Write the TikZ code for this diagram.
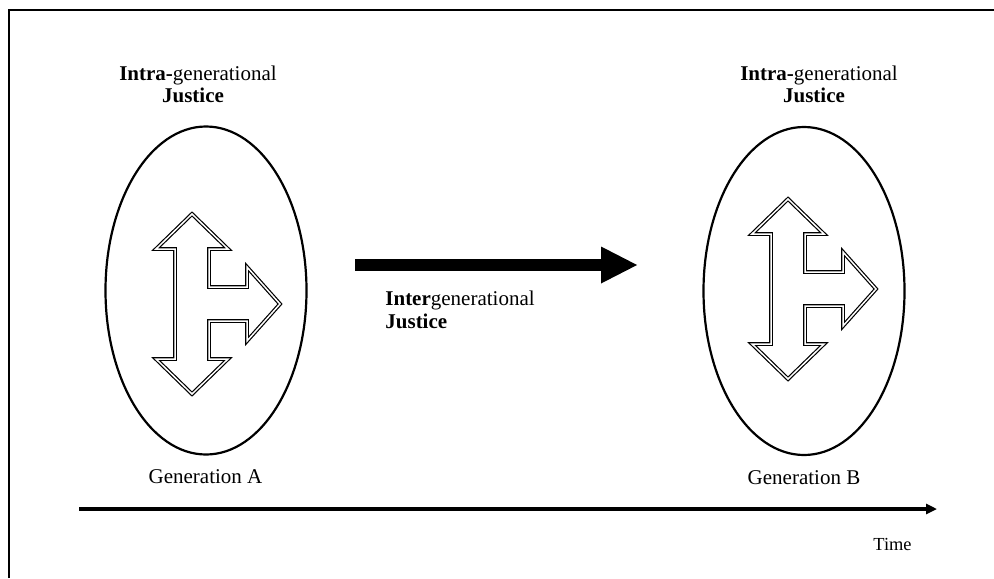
\documentclass[tikz,border=0pt]{standalone}
\usepackage{fontspec}
\setmainfont{Liberation Serif}
\usetikzlibrary{shapes.geometric,arrows.meta}
\begin{document}
\begin{tikzpicture}[x=0.5pt,y=-0.5pt,
        gen/.style={draw,ellipse,line width=1.1pt,inner sep=0pt,minimum width=100.5pt,minimum height=164pt},
        txt/.style={anchor=base,inner sep=0pt,font=\fontsize{10.5}{12}\selectfont},
        fork/.style={double,line width=0.6pt,double distance=0.75pt,line join=miter},
        forkarrow/.pic={
            \draw[fork] (0,-90) -- (36,-55) -- (17,-55) -- (17,-17) -- (55,-17) -- (55,-37)
                -- (88,0) -- (55,37) -- (55,17) -- (17,17) -- (17,55) -- (36,55) -- (0,90)
                -- (-36,55) -- (-17,55) -- (-17,-55) -- (-36,-55) -- cycle;
        }]
    \useasboundingbox (0,0) rectangle (994,578);
    \draw[line width=1.1pt] (9,578) -- (9,10) -- (994,10);
    % the two generations
    \node[gen] (genA) at (206,290.5) {};
    \node[gen] (genB) at (804,291) {};
    \pic at (192,304) {forkarrow};
    \pic at (788,289) {forkarrow};
    \node[txt] (intraA) at (198,80) {\textbf{Intra-}generational};
    \node[txt] (justA) at (193,102) {\textbf{Justice}};
    \node[txt] (intraB) at (819,80) {\textbf{Intra-}generational};
    \node[txt] (justB) at (814,102) {\textbf{Justice}};
    \node[txt] (nameA) at (205.5,483) {Generation A};
    \node[txt] (nameB) at (804,484) {Generation B};
    % between them
    \coordinate (passS) at (355,265);
    \coordinate (passE) at (638,265);
    \draw[line width=6.25pt,-{Triangle[length=18.5pt,width=17pt]}] (passS) -- (passE);
    \node[txt,anchor=base west] (interlab) at (385,305) {\textbf{Inter}generational};
    \node[txt,anchor=base west] (interjust) at (385,328) {\textbf{Justice}};
    % time axis
    \coordinate (timeS) at (79,509);
    \coordinate (timeE) at (937,509);
    \draw[line width=1.85pt,-{Triangle[length=5.5pt,width=5pt]}] (timeS) -- (timeE);
    \node[txt,font=\fontsize{9.2}{11}\selectfont] (timelab) at (892.5,550) {Time};
\end{tikzpicture}
\end{document}
